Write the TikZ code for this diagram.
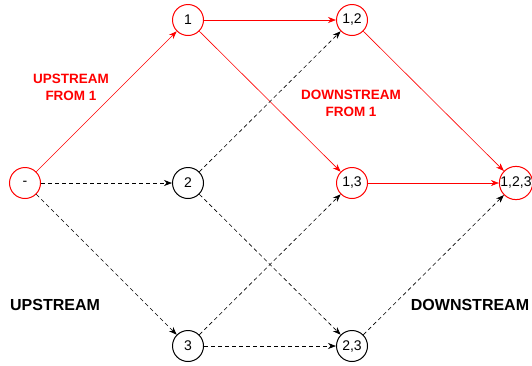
\documentclass[tikz,border=0pt]{standalone}
\usepackage{fontspec}
\setmainfont{Liberation Sans}
\usetikzlibrary{arrows.meta}
\tikzset{
    state/.style={circle, draw, line width=1pt, minimum size=31pt, inner sep=0pt, font=\fontsize{14}{14}\selectfont},
    hot/.style={red, text=black},
    flow/.style={-{Stealth[length=8pt,width=6pt]}, semithick},
    side/.style={-{Stealth[length=8pt,width=6pt]}, semithick, dash pattern=on 4pt off 3pt},
    tag/.style={font=\bfseries\fontsize{16}{18}\selectfont, align=center},
    redtag/.style={font=\bfseries\fontsize{13.5}{17}\selectfont, align=center, red}
}
\begin{document}
\begin{tikzpicture}[x=1pt, y=-1pt]
    \useasboundingbox (0,0) rectangle (532,365);
    % lattice of subsets
    \node[state, hot] (e) at (25,183) {-};
    \node[state, hot] (a) at (188,20) {1};
    \node[state] (b) at (188,183) {2};
    \node[state] (c) at (188,346) {3};
    \node[state, hot] (ab) at (352,20) {1,2};
    \node[state, hot] (ac) at (352,183) {1,3};
    \node[state] (bc) at (352,346) {2,3};
    \node[state, hot] (abc) at (516,183) {1,2,3};
    % paths through 1
    \draw[flow, red] (e) -- (a);
    \draw[flow, red] (a) -- (ab);
    \draw[flow, red] (a) -- (ac);
    \draw[flow, red] (ab) -- (abc);
    \draw[flow, red] (ac) -- (abc);
    % remaining paths
    \draw[side] (e) -- (b);
    \draw[side] (e) -- (c);
    \draw[side] (b) -- (ab);
    \draw[side] (b) -- (bc);
    \draw[side] (c) -- (ac);
    \draw[side] (c) -- (bc);
    \draw[side] (bc) -- (abc);
    % labels
    \node[redtag] (upa) at (71,87) {UPSTREAM\\FROM 1};
    \node[redtag] (dna) at (351,103) {DOWNSTREAM\\FROM 1};
    \node[tag] (up) at (55,305) {UPSTREAM};
    \node[tag] (dn) at (470,305) {DOWNSTREAM};
\end{tikzpicture}
\end{document}
